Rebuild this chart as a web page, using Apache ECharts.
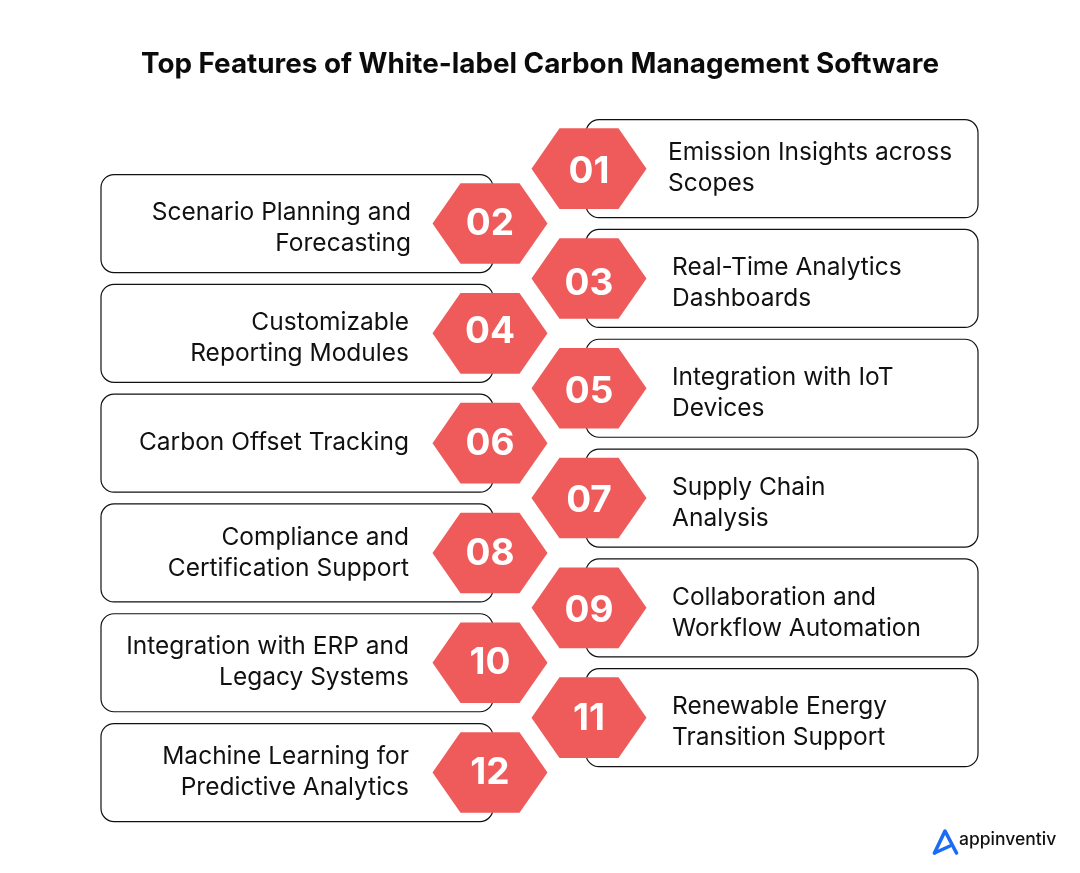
<!DOCTYPE html>
<html><head><meta charset="utf-8">
<style>html,body{margin:0;padding:0;background:#fff}#c{width:1080px;height:873px}</style>
<script src="https://cdn.jsdelivr.net/npm/echarts@6/dist/echarts.min.js"></script>
</head><body><div id="c"></div>
<script>
const chartTitle = 'Top Features of White-label Carbon Management Software';
const numbers = ['01','02','03','04','05','06','07','08','09','10','11','12'];
const features = [
  'Emission Insights across\nScopes',
  'Scenario Planning and\nForecasting',
  'Real-Time Analytics\nDashboards',
  'Customizable\nReporting Modules',
  'Integration with IoT\nDevices',
  'Carbon Offset Tracking',
  'Supply Chain\nAnalysis',
  'Compliance and\nCertification Support',
  'Collaboration and\nWorkflow Automation',
  'Integration with ERP and\nLegacy Systems',
  'Renewable Energy\nTransition Support',
  'Machine Learning for\nPredictive Analytics'
];
const sides = ['Left','Right'];
const brand = 'appinventiv';

const CORAL = '#EF5B5A', FONT = 'Inter, "Noto Sans", sans-serif';
const HEX_W = 57.5, HEX_TOP = 29.5, HEX_H = 40.3;
const CARD_H = 49, CARD_W = 392, CARD_NEAR = 3;
const TEXT_GAP = 79;
// Hand-placement quirks of the original artwork (label / numeral vertical nudges, px)
const labelNudge = [-0.8,4.6,4.6,4.6,4.6,-0.6,4.8,0.2,5.2,-0.6,4.4,-0.2];
const numeralNudge = [2,-0.6,4,-2,3,0,2,0,1.6,-1,0.4,-1];

const rows = numbers.map((n, i) => [sides[(i + 1) % 2 === 1 ? 1 : 0], n]);

function renderCard(params, api) {
  const c = api.coord([api.value(0), api.value(1)]);
  const isRight = params.dataIndex % 2 === 0;
  const x = isRight ? c[0] - CARD_NEAR : c[0] + CARD_NEAR - CARD_W;
  const idx = params.dataIndex;
  const tx = isRight ? c[0] + TEXT_GAP + (idx === 0 ? 0 : 4) : c[0] - 81 + (idx === 1 ? 2 : 0);
  return {
    type: 'group',
    children: [
      { type: 'rect', shape: { x, y: c[1] - CARD_H, width: CARD_W, height: CARD_H * 2, r: 13 },
        style: { fill: '#fff', stroke: '#111', lineWidth: 1.2 } },
      { type: 'text', x: tx, y: c[1] + labelNudge[idx], style: {
          text: features[idx], fill: '#111', font: '400 24.5px ' + FONT, lineHeight: 31,
          align: isRight ? 'left' : 'right', verticalAlign: 'middle' } }
    ]
  };
}
function renderHex(params, api) {
  const c = api.coord([api.value(0), api.value(1)]);
  const idx = params.dataIndex;
  return {
    type: 'group',
    children: [
      { type: 'polygon', shape: { points: [
          [c[0] - HEX_W, c[1]], [c[0] - HEX_TOP, c[1] - HEX_H], [c[0] + HEX_TOP, c[1] - HEX_H],
          [c[0] + HEX_W, c[1]], [c[0] + HEX_TOP, c[1] + HEX_H], [c[0] - HEX_TOP, c[1] + HEX_H]] },
        style: { fill: CORAL } },
      { type: 'text', x: c[0], y: c[1] + 1 + numeralNudge[idx], style: {
          text: numbers[idx], fill: '#fff', font: '700 37px ' + FONT,
          align: 'center', verticalAlign: 'middle' } }
    ]
  };
}

const chart = echarts.init(document.getElementById('c'), null, { renderer: 'canvas' });
chart.setOption({
  animation: false,
  backgroundColor: '#fff',
  title: { text: chartTitle, left: 'center', top: 46,
    textStyle: { fontFamily: FONT, fontSize: 27.8, fontWeight: 700, color: '#0b0b0b' } },
  grid: { left: 440.5, width: 198, top: 141.2, height: 658.8 },
  xAxis: { type: 'category', data: sides, show: false },
  yAxis: { type: 'category', data: numbers, inverse: true, show: false },
  tooltip: { show: false },
  series: [
    { type: 'custom', name: 'Cards', renderItem: renderCard, z: 2, data: rows, encode: { x: 0, y: 1 } },
    { type: 'custom', name: 'Badges', renderItem: renderHex, z: 3, data: rows, encode: { x: 0, y: 1 } }
  ],
  graphic: [
    { type: 'polyline', shape: { points: [[934.5, 853], [945, 831], [956.5, 853]] },
      style: { stroke: '#1A6DF3', lineWidth: 3.6, fill: null, lineCap: 'round', lineJoin: 'round' }, z: 5 },
    { type: 'line', shape: { x1: 934.5, y1: 853, x2: 950, y2: 846 },
      style: { stroke: '#1A6DF3', lineWidth: 3.4, lineCap: 'round' }, z: 5 },
    { type: 'text', left: 959, top: 831, style: { text: brand, fill: '#111', font: '500 17.5px ' + FONT }, z: 5 }
  ]
});
</script></body></html>
